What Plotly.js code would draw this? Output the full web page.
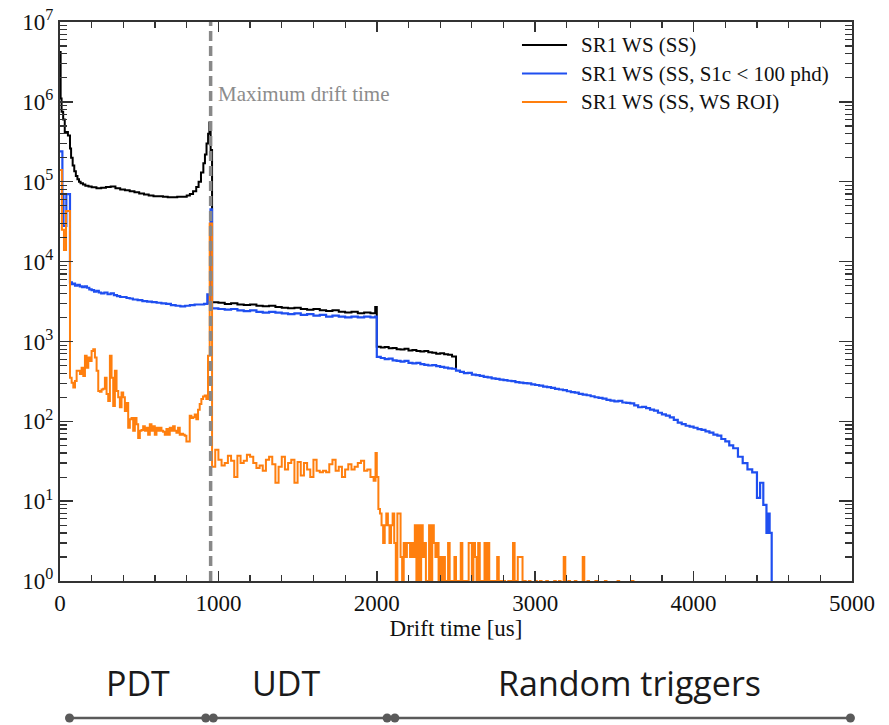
<!DOCTYPE html>
<html>
<head>
<meta charset="utf-8">
<script src="https://cdn.plot.ly/plotly-3.0.1.min.js"></script>
<style>html,body{margin:0;padding:0;background:#fff;}#chart{width:889px;height:725px;}</style>
</head>
<body>
<div id="chart"></div>
<script>
// ---------------- DATA (drift time in us, counts per bin) ----------------
// Black: SR1 WS (SS)
const blackEarlyEdges = [0,4,10,20,30,50,63,70,80,90,100,110,120,130,145,160,180,200,230,260,290,320,350,380,410,440,470,500,530,560,590,620,650,680,710,740,770,800,820,840,860,875,890,905,915,925,935,943,951];
const blackEarlyCounts = [4.2e6,1.1e6,7.5e5,6.0e5,4.2e5,3.8e5,2.6e5,2.0e5,1.6e5,1.35e5,1.18e5,1.07e5,1.0e5,9.6e4,9.2e4,8.9e4,8.7e4,8.5e4,8.3e4,8.4e4,8.6e4,8.7e4,8.3e4,8.0e4,7.8e4,7.6e4,7.4e4,7.1e4,6.9e4,6.7e4,6.6e4,6.6e4,6.5e4,6.4e4,6.4e4,6.5e4,6.5e4,6.7e4,7.0e4,7.6e4,8.6e4,1.0e5,1.3e5,1.7e5,2.2e5,3.0e5,4.0e5,5.5e5,2.5e5];
const blackUdtStart = 960, blackUdtWidth = 40;
const blackUdtCounts = [3100,3050,2950,3000,2900,2850,2900,2800,2750,2800,2700,2650,2600,2650,2550,2500,2550,2450,2400,2450,2350,2300,2350,2250,2300,2250];
const blackLateEdges = [1990];
const blackLateCounts = [2700];
const blackRtStart = 2000, blackRtWidth = 25;
const blackRtCounts = [860,840,850,820,830,800,790,810,770,780,760,750,760,730,720,700,710,690,680,650];
const blackEndEdges = [2500];
const blackEndCounts = [430];

// Blue: SR1 WS (SS, S1c < 100 phd)
const blueEarlyEdges = [0,15,22,40,63,75,85,95,110,125,140,155,170,185,200,215,230,245,260,280,300,320,340,360,380,400,420,440,460,490,520,550,580,610,640,670,700,730,760,790,820,850,880,910,930,940,950];
const blueEarlyCounts = [2.4e5,7.0e4,2.8e4,7.0e4,5500,5200,5300,5000,5100,4900,4800,4900,4700,4500,4400,4200,4300,4100,4000,4100,3900,4000,3800,3700,3600,3600,3500,3450,3350,3300,3200,3150,3100,3050,3000,2950,2850,2800,2750,2800,2850,2900,2900,2950,3900,3000,4.5e4];
const blueUdtStart = 960, blueUdtWidth = 40;
const blueUdtCounts = [2600,2550,2500,2550,2450,2400,2450,2350,2300,2350,2300,2250,2200,2250,2150,2200,2100,2150,2050,2100,2050,2000,2050,2000,2050,2000];
const blueLateEdges = [1990];
const blueLateCounts = [2050];
const blueRt1Start = 2000, blueRt1Width = 25;
const blueRt1Counts = [640,620,600,610,580,570,560,570,540,530,540,520,510,500,505,490,480,470,460,455];
const blueRt2Start = 2500, blueRt2Width = 25;
const blueRt2Counts = [430,415,400,405,385,378,370,360,355,345,340,333,328,322,318,310,305,300,298,290,285,280,272,268,262,255,250,245,238,232,228,220,216,212,206,200,196,192,186,182,178,180,172,170,168,158,150,152,146,140,136,128,122,118,112,104,96,92,88,86,83,80,78,75,72,68,66,60,56,50];
const blueEndEdges = [4250,4280,4310,4340,4370,4400,4420,4440,4460,4470,4480,4493];
const blueEndCounts = [46,36,30,25,23,11,17,9,4,7,4,0];

// Orange: SR1 WS (SS, WS ROI)
const orangeEarlyEdges = [0,12,25,38];
const orangeEarlyCounts = [1.4e5,2.5e4,1.4e4,4.3e4];
const orangePdtStart = 63, orangePdtWidth = 10.5;
const orangePdtCounts = [350,305,265,320,430,430,390,470,370,660,470,630,570,760,800,630,430,240,235,250,255,350,220,180,660,350,155,430,240,200,150,230,200,135,170,83,106,110,76,110,92,62,76,78,87,76,83,68,92,76,87,68,83,76,83,76,74,68,80,68,83,76,87,76,72,83,68,70,68,66,56,56,117,110,112,122,106,140,165,190,205,210,190,660];
const orangeSpikeEdges = [945];
const orangeSpikeCounts = [3.0e4];
const orangeUdtStart = 960, orangeUdtWidth = 20;
const orangeUdtCounts = [27,44,33,28,30,37,32,20,37,30,32,38,36,30,26,28,24,33,36,29,17,27,36,25,30,33,17,31,21,30,25,20,33,24,23,24,23,29,33,24,27,20,25,29,25,27,30,32,24,25,20,18];
const orangeLateEdges = [1992];
const orangeLateCounts = [40];
const orangeRtStart = 2000, orangeRtWidth = 10;
const orangeRtCounts = [20,8,7,5,3,5,7,5,3,5,7,3,0,7,7,2,0,3,2,3,3,2,3,2,5,0,5,0,5,2,3,1,1,5,0,5,3,2,3,0,2,1,2,0,1,3,0,1,0,2,1,0,1,3,0,1,0,1,3,3,1,3,2,0,3,1,0,1,3,1,3,0,1,0,1,0,2,0,1,0,1,0,0,1,0,1,3,0,1,2,2,2,0,1,0,0,1,0,0,0,1,0,0,1,0,0,0,1,0,0,0,0,1,0,0,1,0,0,2,0,0,1,0,0,0,1,0,0,0,0,2,0,0,1,0,0,0,0,1,0,0,0,0,0,1,0,0,0,0,0,0,0,1,0,0,0,0,0,0,0,0,1,0,0,0,0,0,0,0,0,0];

// Axis ticks and labels
const xTickVals = [0,1000,2000,3000,4000,5000];
const xTickText = ['0','1000','2000','3000','4000','5000'];
const yTickVals = [1,10,100,1000,1e4,1e5,1e6,1e7];
const yTickText = ['10<sup>0</sup>','10<sup>1</sup>','10<sup>2</sup>','10<sup>3</sup>','10<sup>4</sup>','10<sup>5</sup>','10<sup>6</sup>','10<sup>7</sup>'];

const seriesNames = ['SR1 WS (SS)','SR1 WS (SS, S1c &lt; 100 phd)','SR1 WS (SS, WS ROI)'];
const maxDriftTime = 951;
const maxDriftLabel = 'Maximum drift time';

// Lower timeline of trigger regions
const timelineEdges = [60,920,968,2065,2114,4990];
const regionNames = ['PDT','UDT','Random triggers'];
const regionCenters = [492,1428,3598];

// ---------------- BUILD ----------------
function run(start, width, counts) { return counts.map((c,i)=>[start+i*width, c]); }
function pairs(edges, counts) { return edges.map((e,i)=>[e, counts[i]]); }
function series(parts) {
  const all = [].concat(...parts).sort((a,b)=>a[0]-b[0]);
  // zero counts cannot sit on a log axis: send them below the visible range
  return { x: all.map(p=>p[0]), y: all.map(p=>p[1] > 0 ? p[1] : 0.1) };
}
const black = series([pairs(blackEarlyEdges,blackEarlyCounts), run(blackUdtStart,blackUdtWidth,blackUdtCounts), pairs(blackLateEdges,blackLateCounts), run(blackRtStart,blackRtWidth,blackRtCounts), pairs(blackEndEdges,blackEndCounts)]);
const blue = series([pairs(blueEarlyEdges,blueEarlyCounts), run(blueUdtStart,blueUdtWidth,blueUdtCounts), pairs(blueLateEdges,blueLateCounts), run(blueRt1Start,blueRt1Width,blueRt1Counts), run(blueRt2Start,blueRt2Width,blueRt2Counts), pairs(blueEndEdges,blueEndCounts)]);
const orange = series([pairs(orangeEarlyEdges,orangeEarlyCounts), run(orangePdtStart,orangePdtWidth,orangePdtCounts), pairs(orangeSpikeEdges,orangeSpikeCounts), run(orangeUdtStart,orangeUdtWidth,orangeUdtCounts), pairs(orangeLateEdges,orangeLateCounts), run(orangeRtStart,orangeRtWidth,orangeRtCounts)]);

const colors = ['#000000','#1f4ff0','#ff7f0e'];
const serif = 'Liberation Serif, Times New Roman, serif';

const yMinor = [];
for (let d = 0; d < 7; d++) for (let m = 2; m <= 9; m++) yMinor.push(m * Math.pow(10, d));

const traces = [black, blue, orange].map((s,i)=>({
  type:'scatter', mode:'lines', x:s.x, y:s.y, name:seriesNames[i],
  line:{shape:'hv', color:colors[i], width: i===1 ? 2.2 : 2},
  xaxis:'x', yaxis:'y', showlegend:false
}));

traces.push({
  type:'scatter', mode:'lines+markers', x:timelineEdges, y:timelineEdges.map(()=>0.05),
  xaxis:'x2', yaxis:'y2', showlegend:false, cliponaxis:false, hoverinfo:'skip',
  line:{color:'#5a5a5a', width:2.5}, marker:{color:'#5a5a5a', size:9}
});

const axisCommon = {
  showline:true, linecolor:'#333', linewidth:2, mirror:'allticks',
  ticks:'inside', tickcolor:'#333', tickwidth:1.5, showgrid:false, zeroline:false,
  tickfont:{family:serif, size:23, color:'#111'}
};

// Legend block (top right), laid out in paper coordinates
const legendRows = [0.9673, 0.9267, 0.8862];
const legendLineX = [0.5833, 0.6402];
const legendTextX = 0.6553;

const annotations = [{
  xref:'x', yref:'paper', x:maxDriftTime, y:0.897, xanchor:'left', yanchor:'middle', xshift:5,
  text:maxDriftLabel, showarrow:false, font:{family:serif, size:21, color:'#8c8c8c'}
}].concat(regionNames.map((t,i)=>({
  xref:'x2', yref:'y2', x:regionCenters[i], y:0.3, xanchor:'center', yanchor:'middle',
  text:t, showarrow:false, font:{family:'Open Sans, sans-serif', size:34, color:'#1a1a1a'}
}))).concat(seriesNames.map((t,i)=>({
  xref:'paper', yref:'paper', x:legendTextX, y:legendRows[i], xanchor:'left', yanchor:'middle',
  text:t, showarrow:false, font:{family:serif, size:21, color:'#111'}
})));

const shapes = [{type:'line', xref:'x', yref:'y domain', x0:maxDriftTime, x1:maxDriftTime, y0:0, y1:1,
    line:{color:'#888888', width:3.5, dash:'10px,5px'}, layer:'above'}]
  .concat(colors.map((c,i)=>({type:'line', xref:'paper', yref:'paper',
    x0:legendLineX[0], x1:legendLineX[1], y0:legendRows[i], y1:legendRows[i],
    line:{color:c, width:2}})));

const layout = {
  width:889, height:725,
  margin:{l:60, r:37, t:22, b:0},
  paper_bgcolor:'#ffffff', plot_bgcolor:'#ffffff',
  showlegend:false,
  xaxis:Object.assign({}, axisCommon, {
    domain:[0,1], range:[0,5000], anchor:'y', tickmode:'array', tickvals:xTickVals, ticktext:xTickText,
    ticklen:10, minor:{ticks:'inside', ticklen:6, dtick:200, tick0:0, tickcolor:'#333', tickwidth:1.2, showgrid:false},
    title:{text:'Drift time [us]', font:{family:serif, size:23, color:'#111'}, standoff:5}
  }),
  yaxis:Object.assign({}, axisCommon, {
    domain:[0.2048,1], type:'log', range:[0,7], anchor:'x', tickmode:'array', tickvals:yTickVals, ticktext:yTickText,
    ticklen:13, minor:{ticks:'inside', ticklen:7, tickmode:'array', tickvals:yMinor, tickcolor:'#333', tickwidth:1.2, showgrid:false}
  }),
  xaxis2:{domain:[0,1], range:[0,5000], anchor:'y2', visible:false, fixedrange:true},
  yaxis2:{domain:[0,0.2], range:[0,1], anchor:'x2', visible:false, fixedrange:true},
  shapes:shapes,
  annotations:annotations
};

Plotly.newPlot('chart', traces, layout, {displayModeBar:false, staticPlot:true});
</script>
</body>
</html>
